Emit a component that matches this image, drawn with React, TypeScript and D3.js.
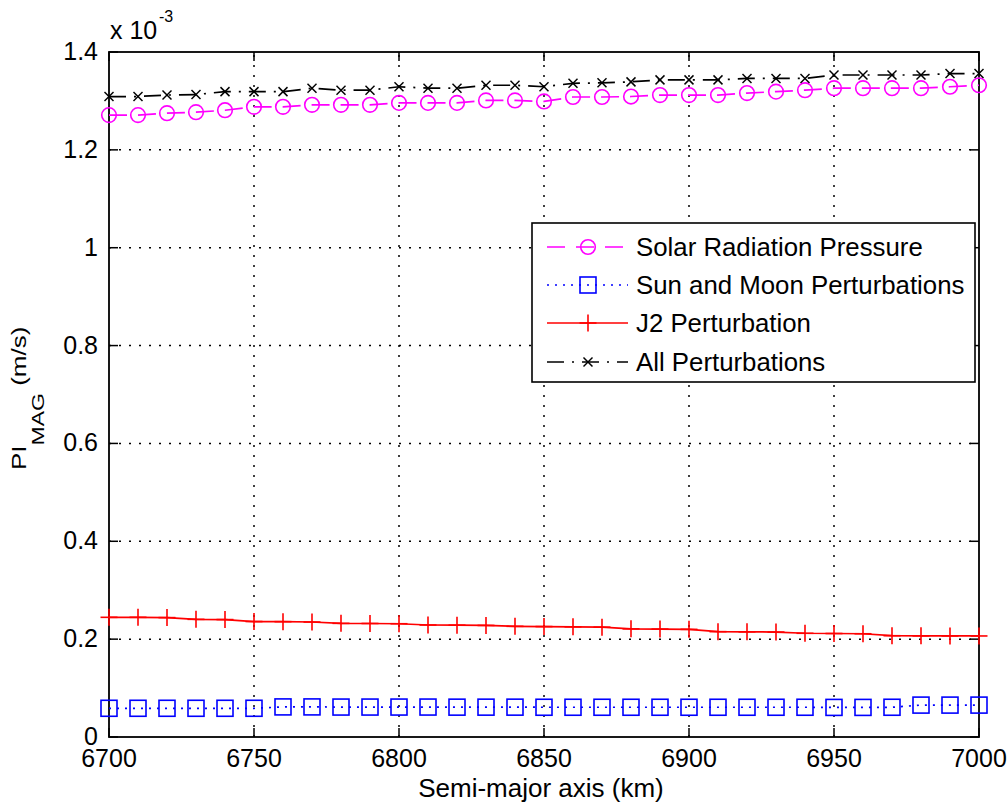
import React from "react";
import * as d3 from "d3";

// Semi-major axis (km)
const semiMajorAxis = [
  6700, 6710, 6720, 6730, 6740, 6750, 6760, 6770, 6780, 6790, 6800,
  6810, 6820, 6830, 6840, 6850, 6860, 6870, 6880, 6890, 6900,
  6910, 6920, 6930, 6940, 6950, 6960, 6970, 6980, 6990, 7000,
];

// PI_MAG values (x 10^-3 m/s)
const solarRadiation = [
  1.271, 1.271, 1.275, 1.277, 1.281, 1.288, 1.288, 1.292, 1.292, 1.292, 1.296,
  1.296, 1.296, 1.301, 1.301, 1.299, 1.308, 1.308, 1.309, 1.312, 1.312,
  1.312, 1.316, 1.319, 1.322, 1.326, 1.326, 1.326, 1.326, 1.329, 1.332,
];
const sunMoon = [
  0.0587, 0.0587, 0.0587, 0.0587, 0.0587, 0.0587, 0.0615, 0.0615, 0.0612, 0.0612, 0.0612,
  0.0612, 0.0610, 0.0610, 0.0610, 0.0608, 0.0608, 0.0608, 0.0608, 0.0608, 0.0608,
  0.0608, 0.0608, 0.0608, 0.0608, 0.0605, 0.0605, 0.0608, 0.0652, 0.0652, 0.0652,
];
const j2Perturbation = [
  0.2446, 0.2446, 0.2440, 0.2405, 0.2400, 0.2360, 0.2357, 0.2350, 0.2323, 0.2320, 0.2315,
  0.2289, 0.2285, 0.2280, 0.2262, 0.2257, 0.2252, 0.2245, 0.2210, 0.2205, 0.2200,
  0.2153, 0.2150, 0.2145, 0.2120, 0.2115, 0.2110, 0.2070, 0.2068, 0.2066, 0.2065,
];
const allPerturbations = [
  1.309, 1.309, 1.312, 1.313, 1.319, 1.319, 1.319, 1.326, 1.322, 1.322, 1.329,
  1.326, 1.326, 1.332, 1.332, 1.329, 1.336, 1.337, 1.339, 1.343, 1.343,
  1.343, 1.346, 1.346, 1.346, 1.353, 1.353, 1.353, 1.353, 1.356, 1.356,
];

const xTicks = [6700, 6750, 6800, 6850, 6900, 6950, 7000];
const xTickLabels = ["6700", "6750", "6800", "6850", "6900", "6950", "7000"];
const yTicks = [0, 0.2, 0.4, 0.6, 0.8, 1.0, 1.2, 1.4];
const yTickLabels = ["0", "0.2", "0.4", "0.6", "0.8", "1", "1.2", "1.4"];

const legendLabels = [
  "Solar Radiation Pressure",
  "Sun and Moon Perturbations",
  "J2 Perturbation",
  "All Perturbations",
];

const FONT = "'Liberation Sans', Arial, Helvetica, sans-serif";

type MarkerKind = "circle" | "square" | "plus" | "cross";

function Marker({ kind, cx, cy, color }: { kind: MarkerKind; cx: number; cy: number; color: string }) {
  const sw = 1.6;
  if (kind === "circle") return <circle cx={cx} cy={cy} r={7.3} fill="none" stroke={color} strokeWidth={sw} />;
  if (kind === "square")
    return <rect x={cx - 8} y={cy - 8} width={16} height={16} fill="none" stroke={color} strokeWidth={sw} />;
  if (kind === "plus")
    return (
      <g stroke={color} strokeWidth={sw}>
        <line x1={cx - 8.5} y1={cy} x2={cx + 8.5} y2={cy} />
        <line x1={cx} y1={cy - 8.5} x2={cx} y2={cy + 8.5} />
      </g>
    );
  return (
    <g stroke={color} strokeWidth={1.5}>
      <line x1={cx - 4.5} y1={cy - 4.5} x2={cx + 4.5} y2={cy + 4.5} />
      <line x1={cx - 4.5} y1={cy + 4.5} x2={cx + 4.5} y2={cy - 4.5} />
    </g>
  );
}

export default function App() {
  const W = 1008;
  const H = 812;
  const L = 109, R = 979, T = 52, B = 737;

  const x = d3.scaleLinear().domain([6700, 7000]).range([L, R]);
  const y = d3.scaleLinear().domain([0, 1.4]).range([B, T]);

  const lineGen = d3
    .line<number>()
    .x((_, i) => x(semiMajorAxis[i]))
    .y((d) => y(d));

  const series = [
    { data: solarRadiation, color: "#ff00ff", dash: "18,11", marker: "circle" as MarkerKind },
    { data: sunMoon, color: "#0000ff", dash: "2,6", marker: "square" as MarkerKind },
    { data: j2Perturbation, color: "#ff0000", dash: "none", marker: "plus" as MarkerKind },
    { data: allPerturbations, color: "#000000", dash: "17,8,2,8", marker: "cross" as MarkerKind },
  ];

  const tickLen = 9;
  const legX = 532, legY = 223, legW = 443, legH = 159;
  const rowY = [247, 285, 323, 362];

  return (
    <svg
      width={W}
      height={H}
      style={{ position: "fixed", left: 0, top: 0, background: "#fff" }}
      fontFamily={FONT}
    >
      <rect x={0} y={0} width={W} height={H} fill="#fff" />

      {/* grid */}
      <g stroke="#000" strokeWidth={1.5} strokeDasharray="2,8">
        {xTicks.slice(1, -1).map((t) => (
          <line key={"gx" + t} x1={x(t)} x2={x(t)} y1={B} y2={T} />
        ))}
        {yTicks.slice(1, -1).map((t) => (
          <line key={"gy" + t} x1={L} x2={R} y1={y(t)} y2={y(t)} />
        ))}
      </g>

      {/* ticks */}
      <g stroke="#000" strokeWidth={1.5}>
        {xTicks.map((t) => (
          <g key={"tx" + t}>
            <line x1={x(t)} x2={x(t)} y1={B} y2={B - tickLen} />
            <line x1={x(t)} x2={x(t)} y1={T} y2={T + tickLen} />
          </g>
        ))}
        {yTicks.map((t) => (
          <g key={"ty" + t}>
            <line x1={L} x2={L + tickLen} y1={y(t)} y2={y(t)} />
            <line x1={R} x2={R - tickLen} y1={y(t)} y2={y(t)} />
          </g>
        ))}
      </g>

      {/* axes box */}
      <rect x={L} y={T} width={R - L} height={B - T} fill="none" stroke="#000" strokeWidth={1.8} />

      {/* series */}
      {series.map((s, si) => (
        <g key={"s" + si}>
          <path
            d={lineGen(s.data) || ""}
            fill="none"
            stroke={s.color}
            strokeWidth={1.7}
            strokeDasharray={s.dash}
          />
          {s.data.map((v, i) => (
            <Marker key={i} kind={s.marker} cx={x(semiMajorAxis[i])} cy={y(v)} color={s.color} />
          ))}
        </g>
      ))}

      {/* tick labels */}
      <g fontSize={25} fill="#000">
        {xTicks.map((t, i) => (
          <text key={"lx" + t} x={x(t)} y={767} textAnchor="middle">
            {xTickLabels[i]}
          </text>
        ))}
        {yTicks.map((t, i) => (
          <text key={"ly" + t} x={98} y={y(t) + 8} textAnchor="end">
            {yTickLabels[i]}
          </text>
        ))}
      </g>

      {/* exponent */}
      <text x={110} y={39} fontSize={25} fill="#000">
        x 10
      </text>
      <text x={159} y={22} fontSize={16} fill="#000">
        -3
      </text>

      {/* axis labels */}
      <text x={541} y={797} fontSize={26} textAnchor="middle" fill="#000">
        Semi-major axis (km)
      </text>
      <g transform="translate(26,470) rotate(-90) scale(1,0.75)">
        <text x={0} y={0} fontSize={26} fill="#000">
          PI
          <tspan fontSize={23} dy={24}>MAG</tspan>
          <tspan dy={-24}> (m/s)</tspan>
        </text>
      </g>

      {/* legend */}
      <rect x={legX} y={legY} width={legW} height={legH} fill="#fff" stroke="#000" strokeWidth={1.6} />
      {series.map((s, i) => (
        <g key={"leg" + i}>
          <line
            x1={547}
            x2={628}
            y1={rowY[i]}
            y2={rowY[i]}
            stroke={s.color}
            strokeWidth={1.7}
            strokeDasharray={s.dash}
          />
          <Marker kind={s.marker} cx={588} cy={rowY[i]} color={s.color} />
          <text x={636} y={rowY[i] + 9} fontSize={25.8} fill="#000">
            {legendLabels[i]}
          </text>
        </g>
      ))}
    </svg>
  );
}
